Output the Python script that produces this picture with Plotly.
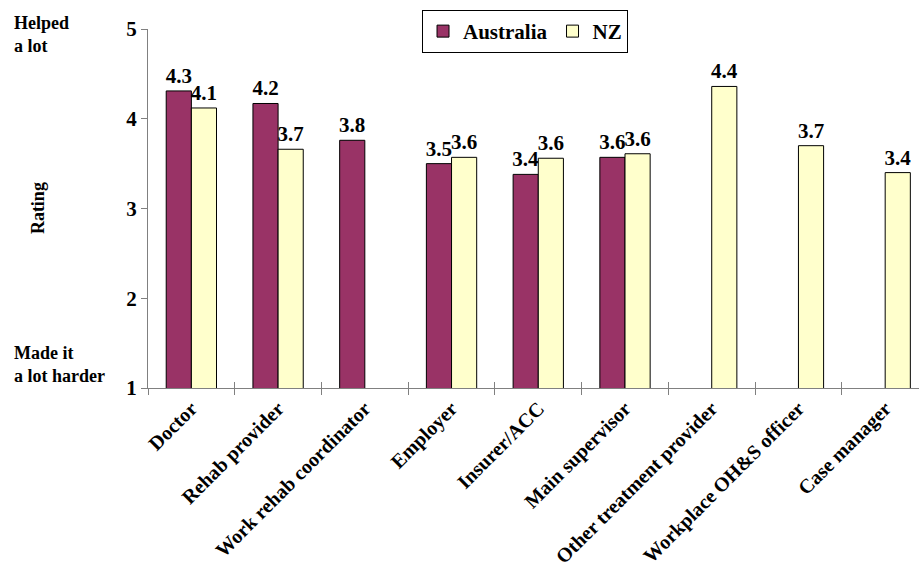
import plotly.graph_objects as go

categories = [
    "Doctor", "Rehab provider", "Work rehab coordinator", "Employer",
    "Insurer/ACC", "Main supervisor", "Other treatment provider",
    "Workplace OH&S officer", "Case manager",
]
australia = [4.31, 4.17, 3.76, 3.50, 3.38, 3.57, None, None, None]
nz = [4.12, 3.66, None, 3.57, 3.56, 3.61, 4.36, 3.70, 3.40]
y_ticks = [1, 2, 3, 4, 5]

FONT = "Liberation Serif, Times New Roman, DejaVu Serif, serif"
AUS_COLOR = "#993366"
NZ_COLOR = "#FFFFCC"
AXIS_COLOR = "#808080"

fig = go.Figure()
for name, vals, col in [("Australia", australia, AUS_COLOR), ("NZ", nz, NZ_COLOR)]:
    fig.add_trace(go.Bar(
        name=name, x=categories, y=vals,
        marker=dict(color=col, line=dict(color="black", width=1)),
        texttemplate="%{y:.1f}", textposition="outside",
        textfont=dict(family=FONT, size=21, color="black", weight="bold"),
        constraintext="none", cliponaxis=False,
    ))

# invisible helper trace so the second x axis (inner half of the crossing ticks) renders
fig.add_trace(go.Scatter(x=categories, y=[None] * len(categories), xaxis="x2",
                         showlegend=False, hoverinfo="skip"))

fig.update_layout(
    width=919, height=572,
    margin=dict(l=148, r=0, t=29, b=184),
    paper_bgcolor="white", plot_bgcolor="white",
    barmode="group", bargap=0.42, bargroupgap=0,
    font=dict(family=FONT, size=18, color="black", weight="bold"),
    xaxis=dict(
        type="category", range=[-0.5, 8.39],
        showline=True, linecolor=AXIS_COLOR, linewidth=1,
        ticks="outside", ticklen=6, tickcolor=AXIS_COLOR, tickson="boundaries",
        tickangle=-45, tickfont=dict(family=FONT, size=20, color="black", weight="bold"),
        showgrid=False, zeroline=False,
    ),
    xaxis2=dict(
        type="category", overlaying="x", matches="x", side="bottom", anchor="y",
        ticks="inside", ticklen=6, tickcolor=AXIS_COLOR, tickson="boundaries",
        showticklabels=False, showgrid=False, zeroline=False, showline=False,
    ),
    yaxis=dict(
        range=[1, 5], tickvals=y_ticks,
        showline=True, linecolor=AXIS_COLOR, linewidth=1,
        ticks="outside", ticklen=6, tickcolor=AXIS_COLOR,
        tickfont=dict(family=FONT, size=21, color="black", weight="bold"),
        showgrid=False, zeroline=False,
    ),
    legend=dict(
        orientation="h", x=0.489, xanchor="center", y=1.053, yanchor="top",
        bordercolor="black", borderwidth=1, bgcolor="white",
        font=dict(family=FONT, size=21, color="black", weight="bold"),
        itemwidth=30, traceorder="normal",
    ),
    annotations=[
        dict(text="Helped<br>a lot", xref="paper", yref="paper",
             x=-0.1764, y=1.05, xanchor="left", yanchor="top", align="left",
             showarrow=False, font=dict(family=FONT, size=18, weight="bold")),
        dict(text="Made it<br>a lot harder", xref="paper", yref="paper",
             x=-0.1764, y=0.132, xanchor="left", yanchor="top", align="left",
             showarrow=False, font=dict(family=FONT, size=18, weight="bold")),
        dict(text="Rating", xref="paper", yref="paper",
             x=-0.1427, y=0.501, xanchor="center", yanchor="middle",
             textangle=-90, showarrow=False, font=dict(family=FONT, size=18, weight="bold")),
    ],
)

fig.write_html("out.html")
